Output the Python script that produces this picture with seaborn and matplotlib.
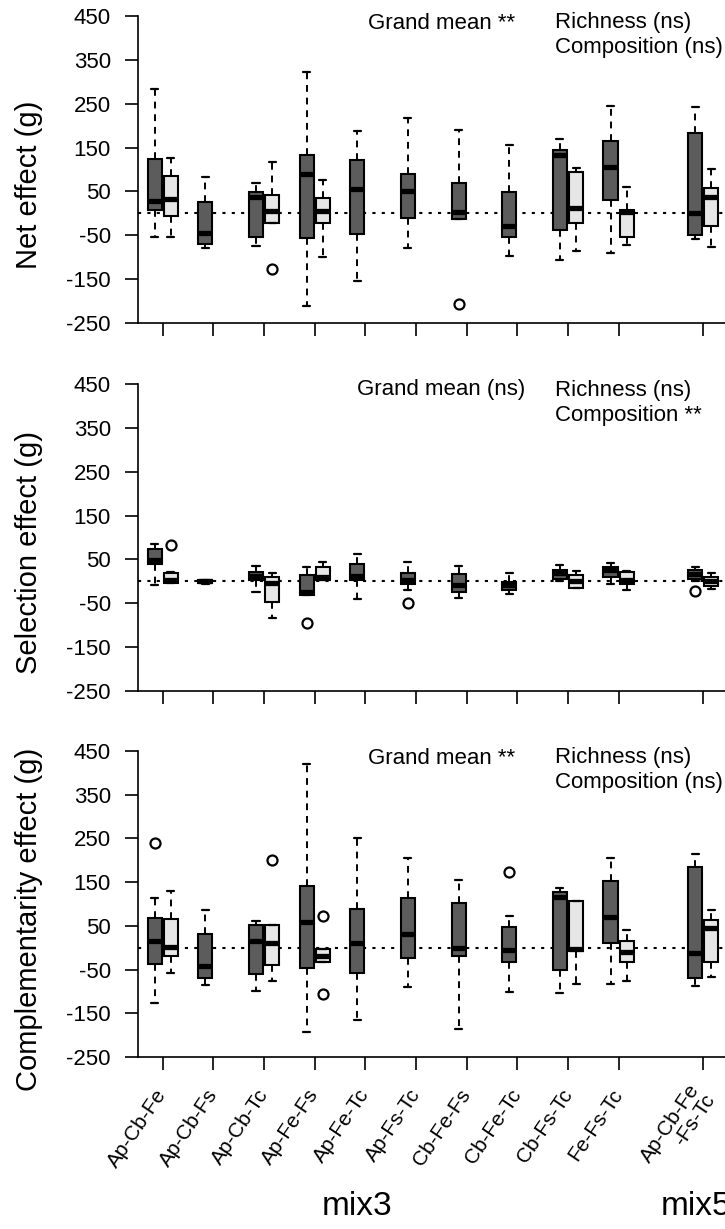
import numpy as np
import pandas as pd
import matplotlib
matplotlib.use("Agg")
import matplotlib.pyplot as plt
import matplotlib.transforms as mtransforms
import seaborn as sns

# ---------------------------------------------------------------------------
# Species combinations and their positions on the x axis
combos = ["Ap-Cb-Fe", "Ap-Cb-Fs", "Ap-Cb-Tc", "Ap-Fe-Fs", "Ap-Fe-Tc",
          "Ap-Fs-Tc", "Cb-Fe-Fs", "Cb-Fe-Tc", "Cb-Fs-Tc", "Fe-Fs-Tc",
          "Ap-Cb-Fe\n-Fs-Tc"]
tick_pos = [1, 2, 3, 4, 5, 6, 7, 8, 9, 10, 11.67]
groups = ["mix3", "mix5"]
group_pos = [4.83, 11.53]

# Box summaries: (lower whisker, Q1, median, Q3, upper whisker); None = no box
net_dark = [(-53, 7, 29, 123, 284), (-79, -69, -45, 26, 82), (-75, -55, 37, 48, 69),
            (-212, -56, 89, 133, 323), (-155, -47, 56, 122, 188), (-78, -11, 50, 89, 217),
            (-12, -12, 3, 70, 190), (-97, -54, -28, 48, 156), (-107, -37, 132, 145, 169),
            (-91, 31, 105, 165, 245), (-58, -50, 0, 183, 243)]
net_light = [(-54, -6, 32, 86, 126), None, (-21, -21, 6, 42, 117), (-100, -21, 6, 36, 76),
             None, None, None, None, (-85, -22, 13, 94, 103), (-73, -55, 3, 8, 60),
             (-77, -28, 38, 57, 101)]
net_out = [(2, "light", -127), (6, "dark", -206)]

sel_dark = [(-8, 39, 48, 73, 85), (-5, -3, 0, 3, 4), (-24, 3, 13, 22, 35),
            (-31, -31, -24, 14, 33), (-40, 3, 12, 39, 62), (-20, -7, 4, 19, 43),
            (-38, -24, -9, 16, 35), (-28, -20, -9, -1, 18), (0, 6, 18, 25, 38),
            (-5, 10, 25, 33, 41), (0, 6, 16, 25, 33)]
sel_light = [(-3, -3, 2, 20, 22), None, (-83, -47, -4, 10, 19), (2, 3, 10, 33, 45),
             None, None, None, None, (-15, -15, 0, 14, 23), (-20, -5, 4, 21, 24),
             (-17, -11, 1, 9, 18)]
sel_out = [(0, "light", 82), (3, "dark", -96), (5, "dark", -50), (10, "dark", -22)]

comp_dark = [(-127, -38, 15, 67, 113), (-85, -70, -42, 31, 86), (-98, -61, 15, 53, 62),
             (-192, -47, 58, 142, 421), (-165, -57, 10, 88, 250), (-89, -24, 31, 114, 206),
             (-186, -18, -1, 103, 156), (-102, -32, -5, 47, 73), (-104, -52, 117, 128, 136),
             (-83, 10, 70, 153, 205), (-87, -70, -11, 184, 214)]
comp_light = [(-58, -20, 2, 65, 130), None, (-77, -39, 10, 53, 53), (-33, -33, -19, -4, -4),
              None, None, None, None, (-83, -7, -3, 108, 108), (-75, -33, -9, 15, 41),
              (-67, -32, 46, 63, 86)]
comp_out = [(0, "dark", 240), (2, "light", 200), (3, "light", 73), (3, "light", -106),
            (7, "dark", 174)]

ylabels = ["Net effect (g)", "Selection effect (g)", "Complementarity effect (g)"]
stat_grand = ["Grand mean **", "Grand mean (ns)", "Grand mean **"]
stat_rich = ["Richness (ns)", "Richness (ns)", "Richness (ns)"]
stat_comp = ["Composition (ns)", "Composition **", "Composition (ns)"]
yticks = [450, 350, 250, 150, 50, -50, -150, -250]

# ---------------------------------------------------------------------------
sns.set_style("ticks")
plt.rcParams["font.family"] = ["Liberation Sans", "DejaVu Sans"]
plt.rcParams["axes.linewidth"] = 1.2
plt.rcParams["axes.edgecolor"] = "black"
plt.rcParams["xtick.color"] = "black"
plt.rcParams["ytick.color"] = "black"
plt.rcParams["text.color"] = "black"
plt.rcParams["axes.labelcolor"] = "black"

DARK = "#5c5c5c"
LIGHT = "#e6e6e6"
OFFSET = 0.16
BOX_W = 0.28

fig = plt.figure(figsize=(7.25, 12.29), dpi=100)
W, H = 725, 1229
panels_px = [(16, 323), (384, 691), (751, 1057)]
left_px = 138


def long_table(summaries, shift):
    rows = []
    for p, s in zip(tick_pos, summaries):
        if s is None:
            continue
        for v in s:
            rows.append({"pos": p + shift, "value": v})
    return pd.DataFrame(rows)


panel_data = [(net_dark, net_light, net_out),
              (sel_dark, sel_light, sel_out),
              (comp_dark, comp_light, comp_out)]

box_kw = dict(
    whis=(0, 100), width=BOX_W, native_scale=True, saturation=1,
    linecolor="black", linewidth=1.5, showfliers=False,
    whiskerprops={"linestyle": (0, (3.5, 3)), "linewidth": 1.4},
    capprops={"linewidth": 1.6},
    medianprops={"linewidth": 3.8, "color": "black", "solid_capstyle": "butt"},
)

axes = []
for i, ((dark, light, outs), (top, bot)) in enumerate(zip(panel_data, panels_px)):
    ax = fig.add_axes([left_px / W, 1 - bot / H, 1 - left_px / W, (bot - top) / H])
    axes.append(ax)
    ax.axhline(0, color="black", lw=1.5, ls=(0, (1.5, 3.0)), zorder=0.5)

    sns.boxplot(data=long_table(dark, -OFFSET), x="pos", y="value",
                color=DARK, ax=ax, **box_kw)
    sns.boxplot(data=long_table(light, OFFSET), x="pos", y="value",
                color=LIGHT, ax=ax, **box_kw)

    ox = [tick_pos[k] + (-OFFSET if kind == "dark" else OFFSET) for k, kind, _ in outs]
    oy = [v for _, _, v in outs]
    sns.scatterplot(x=ox, y=oy, ax=ax, marker="o", color="white",
                    edgecolor="black", s=52, linewidth=1.6, zorder=6, legend=False)

    ax.set_xlim(0.51, 12.1)
    ax.set_ylim(-250, 450)
    ax.set_yticks(yticks)
    ax.set_yticklabels([str(t) for t in yticks], fontsize=16)
    ax.set_xticks(tick_pos)
    ax.tick_params(axis="both", direction="out", length=9.5, width=1.2, pad=10)
    ax.set_xlabel("")
    ax.set_ylabel(ylabels[i], fontsize=21)
    ax.yaxis.set_label_coords(-0.162, 0.45)
    sns.despine(ax=ax, top=True, right=True)

    yg = 425 if i == 1 else 420
    xg = 4.83 if i == 1 else 5.05
    ax.text(xg, yg, stat_grand[i], fontsize=16, va="baseline", ha="left")
    ax.text(8.75, 423, stat_rich[i], fontsize=16, va="baseline", ha="left")
    ax.text(8.75, 366, stat_comp[i], fontsize=16, va="baseline", ha="left")

    if i < 2:
        ax.set_xticklabels([])
    else:
        ax.set_xticklabels(combos, fontsize=15)
        shift = mtransforms.ScaledTranslation(9 / 100, 0, fig.dpi_scale_trans)
        for lab in ax.get_xticklabels():
            lab.set_rotation(56)
            lab.set_rotation_mode("anchor")
            lab.set_ha("right")
            lab.set_va("center")
            lab.set_multialignment("right")
            lab.set_linespacing(0.95)
            lab.set_transform(lab.get_transform() + shift)
        ax.tick_params(axis="x", pad=15)
        trans = mtransforms.blended_transform_factory(ax.transData, ax.transAxes)
        for g, gp in zip(groups, group_pos):
            ax.text(gp, -0.49, g, transform=trans, ha="center", va="center",
                    fontsize=24)

fig.savefig("out.png", dpi=100)
